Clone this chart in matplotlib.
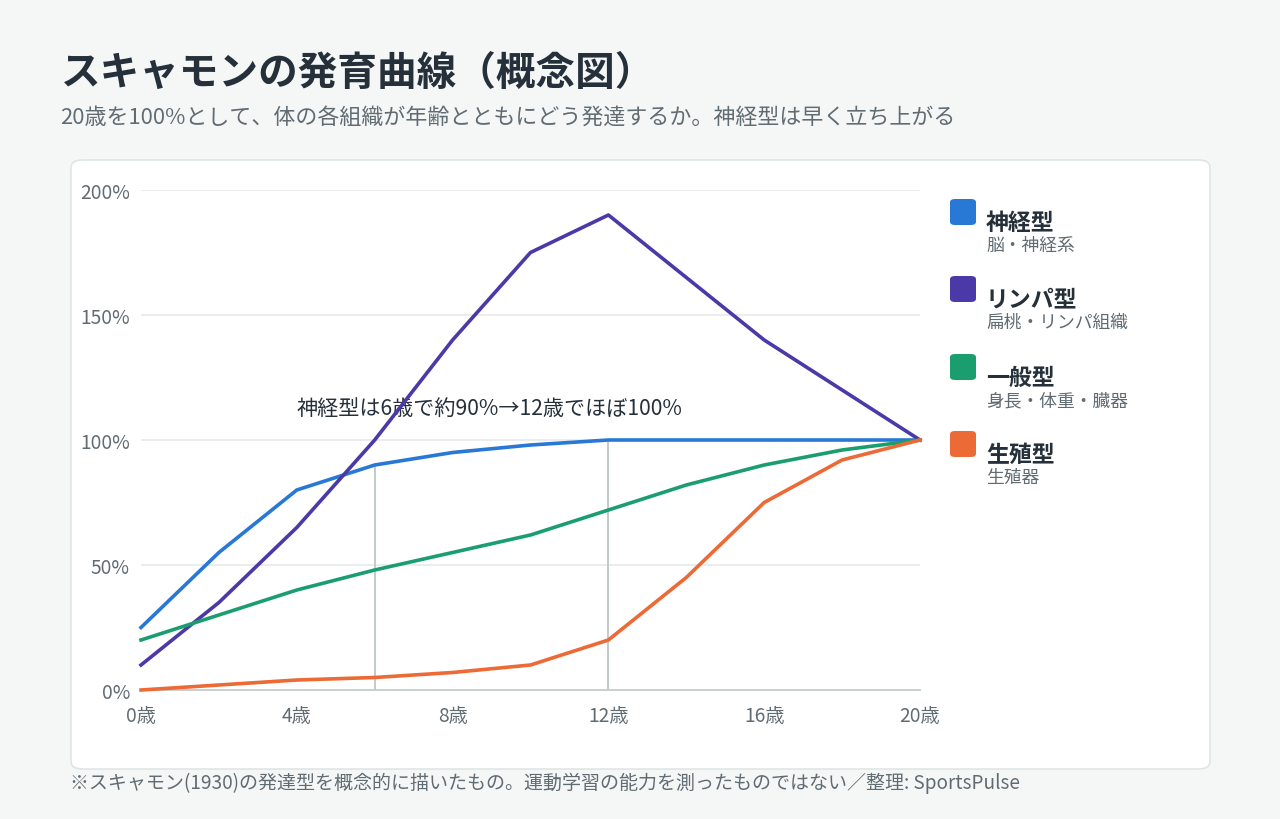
import matplotlib
matplotlib.use('Agg')
import matplotlib.pyplot as plt
from matplotlib.patches import FancyBboxPatch

plt.rcParams['font.family'] = ['Noto Sans CJK JP', 'DejaVu Sans']

ages = [0, 2, 4, 6, 8, 10, 12, 14, 16, 18, 20]
neural = [25, 55, 80, 90, 95, 98, 100, 100, 100, 100, 100]
lymph = [10, 35, 65, 100, 140, 175, 190, 165, 140, 120, 100]
general = [20, 30, 40, 48, 55, 62, 72, 82, 90, 96, 100]
repro = [0, 2, 4, 5, 7, 10, 20, 45, 75, 92, 100]

series_names = ['神経型', 'リンパ型', '一般型', '生殖型']
series_subs = ['脳・神経系', '扁桃・リンパ組織', '身長・体重・臓器', '生殖器']
series_colors = ['#2878d6', '#4b39a8', '#1b9e6f', '#ec6a35']

x_ticks = [0, 4, 8, 12, 16, 20]
y_ticks = [0, 50, 100, 150, 200]
marker_ages = [6, 12]
note = '神経型は6歳で約90%→12歳でほぼ100%'

W, H = 1280, 820
fig = plt.figure(figsize=(W / 100, H / 100), dpi=100)
fig.patch.set_facecolor('#f5f7f7')

card = FancyBboxPatch((71 / W, 1 - 770 / H), (1210 - 71) / W, (770 - 161) / H,
                      boxstyle='round,pad=0,rounding_size=0.009',
                      transform=fig.transFigure, facecolor='white',
                      edgecolor='#dfe5e5', linewidth=1.2, zorder=-5)
fig.patches.append(card)

ax = fig.add_axes([141 / W, 1 - 691 / H, (920 - 141) / W, (691 - 191) / H])
ax.set_zorder(2)
ax.set_facecolor('none')
ax.set_xlim(0, 20)
ax.set_ylim(0, 200)

for y in y_ticks[1:]:
    ax.axhline(y, color='#e6eaea', lw=1.2, zorder=0)

all_series = [neural, lymph, general, repro]
for vals, c in zip(all_series, series_colors):
    ax.plot(ages, vals, color=c, lw=2.6, clip_on=False, zorder=3,
            solid_joinstyle='round')

for a in marker_ages:
    top = neural[ages.index(a)]
    ax.plot([a, a], [0, top], color='#bcc8c5', lw=1.3, zorder=2)

ax.text(8.95, 113, note, ha='center', va='center', fontsize=15.2,
        color='#25303a', zorder=2.5)

for s in ['top', 'right', 'left']:
    ax.spines[s].set_visible(False)
ax.spines['bottom'].set_color('#c3cccc')
ax.spines['bottom'].set_linewidth(1.3)

ax.set_xticks(x_ticks)
ax.set_xticklabels([f'{t}歳' for t in x_ticks])
ax.set_yticks(y_ticks)
ax.set_yticklabels([f'{t}%' for t in y_ticks])
ax.tick_params(length=0, labelsize=13.8, colors='#606b72')
ax.tick_params(axis='y', pad=8)
ax.tick_params(axis='x', pad=11)

# legend drawn by hand
leg_y = [213, 290, 368, 445]
for name, sub, c, yy in zip(series_names, series_subs, series_colors, leg_y):
    sq = FancyBboxPatch((950 / W, 1 - (yy + 13) / H), 26 / W, 26 / H,
                        boxstyle='round,pad=0,rounding_size=0.004',
                        transform=fig.transFigure, facecolor=c, edgecolor='none')
    fig.patches.append(sq)
    fig.text(986 / W, 1 - (yy + 10) / H, name, fontsize=16.5, fontweight='bold',
             color='#25303a', va='center', ha='left')
    fig.text(986 / W, 1 - (yy + 33) / H, sub, fontsize=12.8,
             color='#606b72', va='center', ha='left')

fig.text(61 / W, 1 - 73 / H, 'スキャモンの発育曲線（概念図）', fontsize=28.5,
         fontweight='bold', color='#25303a', va='center', ha='left')
fig.text(60 / W, 1 - 118 / H,
         '20歳を100%として、体の各組織が年齢とともにどう発達するか。神経型は早く立ち上がる',
         fontsize=15.8, color='#606b72', va='center', ha='left')
fig.text(70 / W, 1 - 783 / H,
         '※スキャモン(1930)の発達型を概念的に描いたもの。運動学習の能力を測ったものではない／整理: SportsPulse',
         fontsize=13.7, color='#606b72', va='center', ha='left')

fig.savefig('out.png', dpi=100, facecolor=fig.get_facecolor())
